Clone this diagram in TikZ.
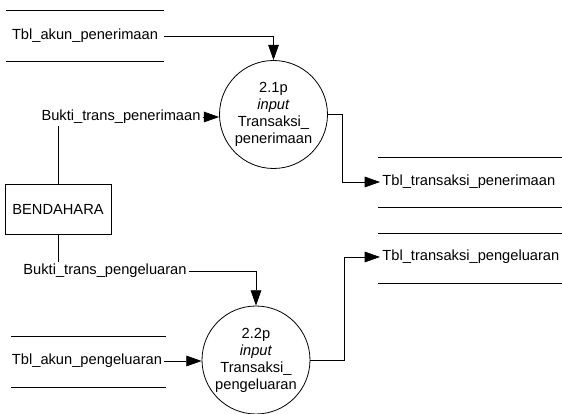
\documentclass[tikz,border=0pt]{standalone}
\usepackage{fontspec}
\setmainfont{Liberation Sans}
\usetikzlibrary{arrows.meta}

\begin{document}
\begin{tikzpicture}[x=0.75pt,y=-0.75pt,line width=0.6pt,
  every node/.style={font=\fontsize{11}{12.75}\selectfont,inner sep=1.5pt},
  proses/.style={draw,circle,minimum size=81pt,inner sep=0pt,align=center},
  entitas/.style={draw,rectangle,minimum width=79.5pt,minimum height=37.5pt},
  panah/.style={-{Triangle[length=11.5pt,width=8pt]}}]
\useasboundingbox (0,0) rectangle (562,414);
% data store kiri
\draw (6,10)--(164,10);
\draw (6,61)--(164,61);
\draw (11,336)--(166,336);
\draw (11,387)--(166,387);
% data store kanan
\draw (378,157)--(562,157);
\draw (378,207)--(562,207);
\draw (378,233)--(562,233);
\draw (378,283)--(562,283);
\node (akunterima) at (85,36){Tbl\_akun\_penerimaan};
\node (akunkeluar) at (87,361){Tbl\_akun\_pengeluaran};
\node (trxterima) at (380,182)[anchor=west]{Tbl\_transaksi\_penerimaan};
\node (trxkeluar) at (380,257)[anchor=west]{Tbl\_transaksi\_pengeluaran};
\node (bendahara) at (58,209)[entitas]{BENDAHARA};
\node (bukti1) at (121,117){Bukti\_trans\_penerimaan};
\node (bukti2) at (105,271){Bukti\_trans\_pengeluaran};
\node (p1) at (273.5,114.5)[proses]{2.1p\\\textit{input}\\Transaksi\_\\penerimaan};
\node (p2) at (256,360)[proses]{2.2p\\\textit{input}\\Transaksi\_\\pengeluaran};
% aliran
\draw[panah] ([xshift=3pt]akunterima.east) -| (p1.north);
\draw[panah] (bukti1.east) -- (bukti1.east -| p1.west);
\draw (bendahara.north) -- (bendahara.north |- bukti1.south);
\draw (bendahara.south) -- (bendahara.south |- bukti2.north);
\draw[panah] (bukti2.east) -| (p2.north);
\draw[panah] (akunkeluar.east) -- (akunkeluar.east -| p2.west);
\draw[panah] (p1.east) -- ++(14,0) |- (trxterima.west);
\draw[panah] (p2.east) -- ++(34,0) |- (trxkeluar.west);
\end{tikzpicture}
\end{document}
